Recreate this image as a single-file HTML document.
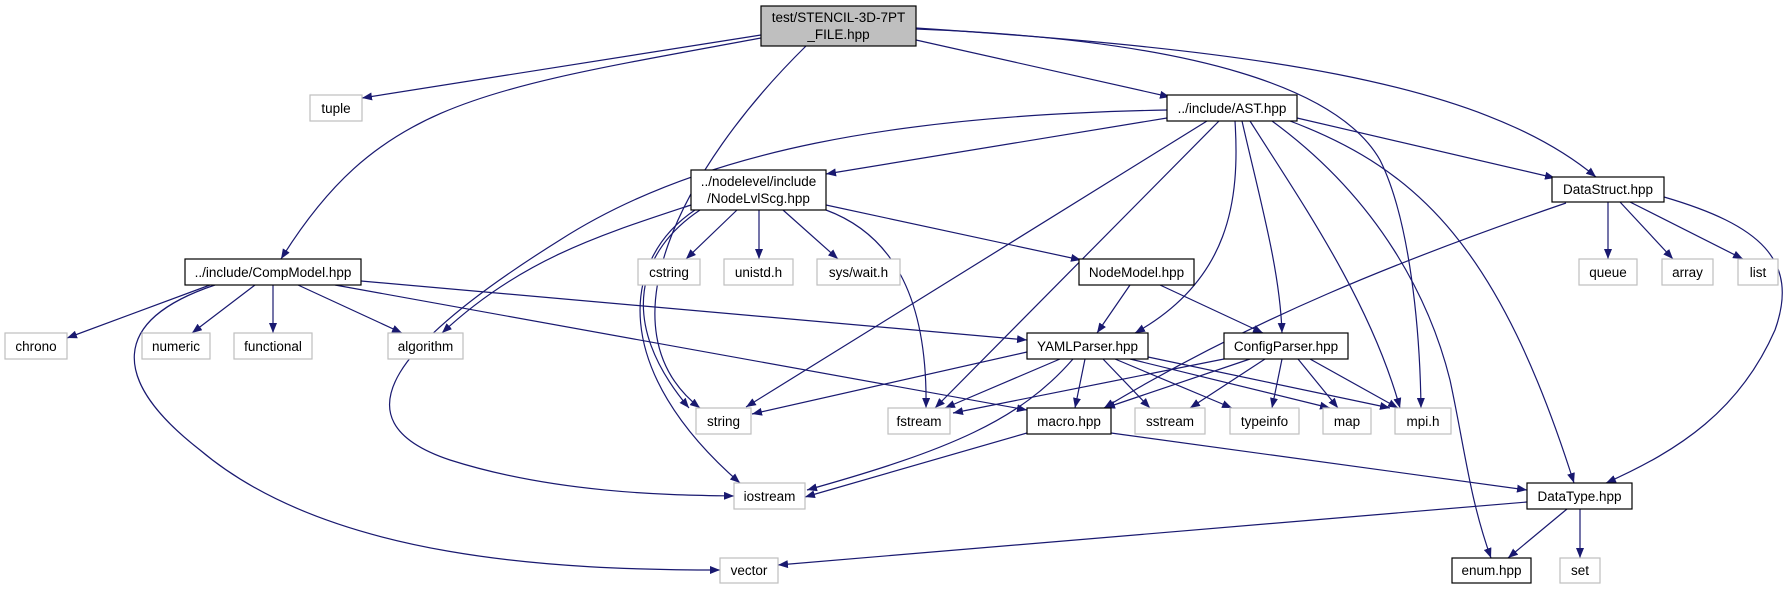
<!DOCTYPE html>
<html><head><meta charset="utf-8"><style>
html,body{margin:0;padding:0;background:#fff;}
svg{display:block;}
text{font-family:"Liberation Sans",Arial,sans-serif;font-size:13.5px;fill:#000;}
.p{fill:#fff;stroke:#000;stroke-width:1.2;}
.s{fill:#fff;stroke:#bfbfbf;stroke-width:1.2;}
.e{fill:none;stroke:#191970;stroke-width:1.2;marker-end:url(#a);}
</style></head><body>
<svg width="1788" height="589" viewBox="0 0 1788 589" xmlns="http://www.w3.org/2000/svg">
<defs><marker id="a" viewBox="0 0 10 8" refX="10" refY="4" markerWidth="10" markerHeight="8" markerUnits="userSpaceOnUse" orient="auto"><path d="M0,0 L10,4 L0,8 z" fill="#191970"/></marker></defs>

<g>
<path class="e" d="M761,35 L362,98"/>
<path class="e" d="M761,38 C480,90 380,100 281,259"/>
<path class="e" d="M806,46 C680,170 600,330 700,408"/>
<path class="e" d="M916,40 L1170,97"/>
<path class="e" d="M916,29 C1200,40 1340,90 1380,160 C1410,220 1420,330 1421,408"/>
<path class="e" d="M916,28 C1250,50 1480,80 1596,177"/>
<path class="e" d="M1167,118 L826,174"/>
<path class="e" d="M1167,110 C900,115 700,150 560,240 C400,340 330,420 450,460 C560,495 680,495 734,496"/>
<path class="e" d="M1207,121 L746,407"/>
<path class="e" d="M1219,121 L935,408"/>
<path class="e" d="M1235,121 C1240,200 1230,280 1135,333"/>
<path class="e" d="M1242,121 C1260,200 1280,270 1282,333"/>
<path class="e" d="M1250,121 C1300,200 1370,300 1400,408"/>
<path class="e" d="M1272,121 C1380,200 1430,300 1450,380 C1465,450 1470,500 1491,558"/>
<path class="e" d="M1290,121 C1420,170 1500,250 1574,483"/>
<path class="e" d="M1297,118 L1555,178"/>
<path class="e" d="M1566,203 C1400,260 1250,320 1104,408"/>
<path class="e" d="M1608,202 L1608,259"/>
<path class="e" d="M1620,202 L1673,259"/>
<path class="e" d="M1630,202 L1743,259"/>
<path class="e" d="M1664,197 C1760,225 1800,260 1775,330 C1740,410 1680,450 1606,483"/>
<path class="e" d="M737,210 L686,259"/>
<path class="e" d="M759,210 L759,259"/>
<path class="e" d="M783,210 L838,259"/>
<path class="e" d="M826,205 L1081,260"/>
<path class="e" d="M826,210 C880,230 928,280 926,408"/>
<path class="e" d="M691,205 C600,235 520,260 442,333"/>
<path class="e" d="M700,210 C640,250 615,320 689,408"/>
<path class="e" d="M695,210 C620,260 610,370 740,483"/>
<path class="e" d="M210,285 L67,338"/>
<path class="e" d="M255,285 L192,333"/>
<path class="e" d="M273,285 L273,333"/>
<path class="e" d="M298,285 L402,333"/>
<path class="e" d="M361,281 L1027,340"/>
<path class="e" d="M335,285 L1027,410"/>
<path class="e" d="M215,285 C110,320 110,380 200,450 C330,560 560,570 720,570"/>
<path class="e" d="M1130,285 L1097,333"/>
<path class="e" d="M1160,285 L1263,333"/>
<path class="e" d="M1027,352 L752,414"/>
<path class="e" d="M1060,359 L945,408"/>
<path class="e" d="M1073,359 C1020,420 950,450 807,490"/>
<path class="e" d="M1085,359 L1075,408"/>
<path class="e" d="M1103,359 L1150,408"/>
<path class="e" d="M1115,359 L1232,408"/>
<path class="e" d="M1130,359 L1330,408"/>
<path class="e" d="M1148,357 L1390,408"/>
<path class="e" d="M1224,359 L953,413"/>
<path class="e" d="M1250,359 L1105,408"/>
<path class="e" d="M1265,359 L1190,408"/>
<path class="e" d="M1282,359 L1272,408"/>
<path class="e" d="M1298,359 L1338,408"/>
<path class="e" d="M1310,359 L1398,408"/>
<path class="e" d="M1027,433 L805,497"/>
<path class="e" d="M1111,433 L1527,490"/>
<path class="e" d="M1527,502 L778,565"/>
<path class="e" d="M1567,509 L1508,558"/>
<path class="e" d="M1580,509 L1580,558"/>
</g>

<g>
<rect x="761" y="6" width="155" height="40" fill="#bfbfbf" stroke="#000" stroke-width="1.2"/>
<text x="838.5" y="22" text-anchor="middle">test/STENCIL-3D-7PT</text>
<text x="838.5" y="39" text-anchor="middle">_FILE.hpp</text>

<rect class="s" x="310" y="95" width="52" height="26"/><text x="336" y="113" text-anchor="middle">tuple</text>
<rect class="p" x="1167" y="95" width="130" height="26"/><text x="1232" y="113" text-anchor="middle">../include/AST.hpp</text>
<rect class="p" x="691" y="170" width="135" height="40"/>
<text x="758.5" y="186" text-anchor="middle">../nodelevel/include</text>
<text x="758.5" y="203" text-anchor="middle">/NodeLvlScg.hpp</text>
<rect class="p" x="1552" y="177" width="112" height="25"/><text x="1608" y="194" text-anchor="middle">DataStruct.hpp</text>
<rect class="p" x="185" y="259" width="176" height="26"/><text x="273" y="277" text-anchor="middle">../include/CompModel.hpp</text>
<rect class="s" x="638" y="259" width="62" height="26"/><text x="669" y="277" text-anchor="middle">cstring</text>
<rect class="s" x="724" y="259" width="69" height="26"/><text x="758.5" y="277" text-anchor="middle">unistd.h</text>
<rect class="s" x="817" y="259" width="83" height="26"/><text x="858.5" y="277" text-anchor="middle">sys/wait.h</text>
<rect class="p" x="1079" y="259" width="115" height="26"/><text x="1136.5" y="277" text-anchor="middle">NodeModel.hpp</text>
<rect class="s" x="1579" y="259" width="58" height="26"/><text x="1608" y="277" text-anchor="middle">queue</text>
<rect class="s" x="1662" y="259" width="51" height="26"/><text x="1687.5" y="277" text-anchor="middle">array</text>
<rect class="s" x="1738" y="259" width="40" height="26"/><text x="1758" y="277" text-anchor="middle">list</text>
<rect class="s" x="5" y="333" width="62" height="26"/><text x="36" y="351" text-anchor="middle">chrono</text>
<rect class="s" x="142" y="333" width="68" height="26"/><text x="176" y="351" text-anchor="middle">numeric</text>
<rect class="s" x="234" y="333" width="78" height="26"/><text x="273" y="351" text-anchor="middle">functional</text>
<rect class="s" x="388" y="333" width="75" height="26"/><text x="425.5" y="351" text-anchor="middle">algorithm</text>
<rect class="p" x="1027" y="333" width="121" height="26"/><text x="1087.5" y="351" text-anchor="middle">YAMLParser.hpp</text>
<rect class="p" x="1224" y="333" width="124" height="26"/><text x="1286" y="351" text-anchor="middle">ConfigParser.hpp</text>
<rect class="s" x="696" y="408" width="55" height="26"/><text x="723.5" y="426" text-anchor="middle">string</text>
<rect class="s" x="888" y="408" width="62" height="26"/><text x="919" y="426" text-anchor="middle">fstream</text>
<rect class="p" x="1027" y="408" width="84" height="26"/><text x="1069" y="426" text-anchor="middle">macro.hpp</text>
<rect class="s" x="1135" y="408" width="70" height="26"/><text x="1170" y="426" text-anchor="middle">sstream</text>
<rect class="s" x="1230" y="408" width="69" height="26"/><text x="1264.5" y="426" text-anchor="middle">typeinfo</text>
<rect class="s" x="1323" y="408" width="48" height="26"/><text x="1347" y="426" text-anchor="middle">map</text>
<rect class="s" x="1395" y="408" width="56" height="26"/><text x="1423" y="426" text-anchor="middle">mpi.h</text>
<rect class="s" x="734" y="483" width="71" height="26"/><text x="769.5" y="501" text-anchor="middle">iostream</text>
<rect class="p" x="1527" y="483" width="105" height="26"/><text x="1579.5" y="501" text-anchor="middle">DataType.hpp</text>
<rect class="s" x="720" y="558" width="58" height="25"/><text x="749" y="575" text-anchor="middle">vector</text>
<rect class="p" x="1452" y="558" width="79" height="25"/><text x="1491.5" y="575" text-anchor="middle">enum.hpp</text>
<rect class="s" x="1560" y="558" width="40" height="25"/><text x="1580" y="575" text-anchor="middle">set</text>
</g>
</svg>
</body></html>
